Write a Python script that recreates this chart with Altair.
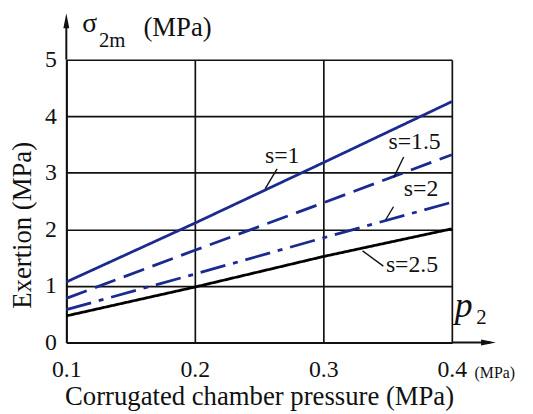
import altair as alt
import pandas as pd

# ---- data ----
x_vals = [0.1, 0.2, 0.3, 0.4]
s1 = [1.07, 2.11, 3.18, 4.26]
s15 = [0.78, 1.63, 2.47, 3.32]
s2 = [0.58, 1.21, 1.85, 2.48]
s25 = [0.47, 0.98, 1.52, 2.01]
series_names = ["s=1", "s=1.5", "s=2", "s=2.5"]
x_ticks = [0.1, 0.2, 0.3, 0.4]
y_ticks = [0, 1, 2, 3, 4, 5]

# annotation label positions (data units) and leader lines
ann_x = [0.268, 0.371, 0.376, 0.369]
ann_y = [3.30, 3.55, 2.71, 1.36]
lead_x1 = [0.264, 0.3625, 0.3546, 0.3467]
lead_y1 = [3.07, 3.28, 2.40, 1.35]
lead_x2 = [0.2548, 0.3548, 0.3485, 0.3305]
lead_y2 = [2.72, 2.92, 2.17, 1.62]

FONT = "Liberation Serif"
BLUE = "#1b2a8f"

rows = []
for name, vals in zip(series_names, [s1, s15, s2, s25]):
    for xv, yv in zip(x_vals, vals):
        rows.append({"p": xv, "v": yv, "s": name})
df = pd.DataFrame(rows)

xs = alt.Scale(domain=[0.1, 0.4], nice=False, zero=False)
ys = alt.Scale(domain=[0, 5], nice=False, zero=False)
X = lambda: alt.X("p:Q", scale=xs)
Y = lambda: alt.Y("v:Q", scale=ys)

lines = alt.Chart(df).mark_line(strokeCap="butt").encode(
    x=alt.X("p:Q", scale=xs,
            axis=alt.Axis(values=x_ticks, format=".1f", grid=True, gridColor="#111",
                          gridWidth=1.7, gridOpacity=1, ticks=False, domainColor="#111",
                          domainWidth=2, labelFont=FONT, labelFontSize=24, labelColor="#111",
                          labelPadding=15, title="Corrugated chamber pressure (MPa)",
                          titleFont=FONT, titleFontSize=27, titleFontWeight="normal",
                          titleColor="#111", titlePadding=3, labelFlush=False)),
    y=alt.Y("v:Q", scale=ys,
            axis=alt.Axis(values=y_ticks, format="d", grid=True, gridColor="#111", gridWidth=1.7,
                          gridOpacity=1, ticks=False, domainColor="#111", domainWidth=2,
                          labelFont=FONT, labelFontSize=24, labelColor="#111",
                          labelPadding=10, title="Exertion (MPa)", titleFont=FONT,
                          titleFontSize=27, titleFontWeight="normal", titleColor="#111",
                          titlePadding=8, titleY=167, labelFlush=False)),
    color=alt.Color("s:N", scale=alt.Scale(domain=series_names,
                                           range=[BLUE, BLUE, BLUE, "#000000"]), legend=None),
    strokeDash=alt.StrokeDash("s:N", scale=alt.Scale(domain=series_names,
                              range=[[1, 0], [22, 9], [26, 8, 5, 8], [1, 0]]), legend=None),
    strokeWidth=alt.StrokeWidth("s:N", scale=alt.Scale(domain=series_names,
                                range=[2.8, 2.8, 2.8, 3.6]), legend=None),
    detail="s:N",
)

ann_df = pd.DataFrame({"t": series_names, "p": ann_x, "v": ann_y})
ann = alt.Chart(ann_df).mark_text(font=FONT, fontSize=24, color="#111",
                                  align="center", baseline="middle").encode(
    x=X(), y=Y(), text="t:N")

lead_df = pd.DataFrame({"p": lead_x1, "v": lead_y1, "p2": lead_x2, "v2": lead_y2})
leads = alt.Chart(lead_df).mark_rule(color="#111", strokeWidth=1.4).encode(
    x=X(), y=Y(), x2="p2:Q", y2="v2:Q")

# axis arrows
arrow_lines = pd.DataFrame({"p": [0.4, 0.1], "v": [0, 5], "p2": [0.43, 0.1], "v2": [0, 5.66]})
arr_rules = alt.Chart(arrow_lines).mark_rule(color="#111", strokeWidth=2).encode(
    x=X(), y=Y(), x2="p2:Q", y2="v2:Q")
head_r = alt.Chart(pd.DataFrame({"p": [0.4285], "v": [0]})).mark_point(
    shape="M-1,-0.4L1,0L-1,0.4Z", filled=True, color="#111", opacity=1, size=225).encode(
    x=X(), y=Y())
head_u = alt.Chart(pd.DataFrame({"p": [0.1], "v": [5.69]})).mark_point(
    shape="M-0.4,1L0,-1L0.4,1Z", filled=True, color="#111", opacity=1, size=225).encode(
    x=X(), y=Y())

# extra labels
lab_df = pd.DataFrame({
    "t": ["σ", "2m", "(MPa)", "2", "(MPa)"],
    "p": [0.1123, 0.1254, 0.160, 0.419, 0.4177],
    "v": [5.49, 5.23, 5.42, 0.33, -0.62],
    "fs": [28, 21, 27, 21, 16],
})
labs = alt.Chart(lab_df).mark_text(font=FONT, color="#111", align="left",
                                   baseline="alphabetic").encode(
    x=X(), y=Y(), text="t:N", size=alt.Size("fs:Q", scale=None, legend=None))
p_lab = alt.Chart(pd.DataFrame({"t": ["p"], "p": [0.4023], "v": [0.455]})).mark_text(
    font=FONT, fontSize=36, fontStyle="italic", color="#111", align="left",
    baseline="alphabetic").encode(x=X(), y=Y(), text="t:N")

chart = alt.layer(lines, leads, ann, arr_rules, head_r, head_u, labs, p_lab).properties(
    width=390, height=286,
    autosize=alt.AutoSizeParams(type="none"),
    padding={"left": 59, "top": 50, "right": 74, "bottom": 68},
).configure_view(stroke=None)

chart.save("out.html", embed_options={"renderer": "svg", "actions": False})
